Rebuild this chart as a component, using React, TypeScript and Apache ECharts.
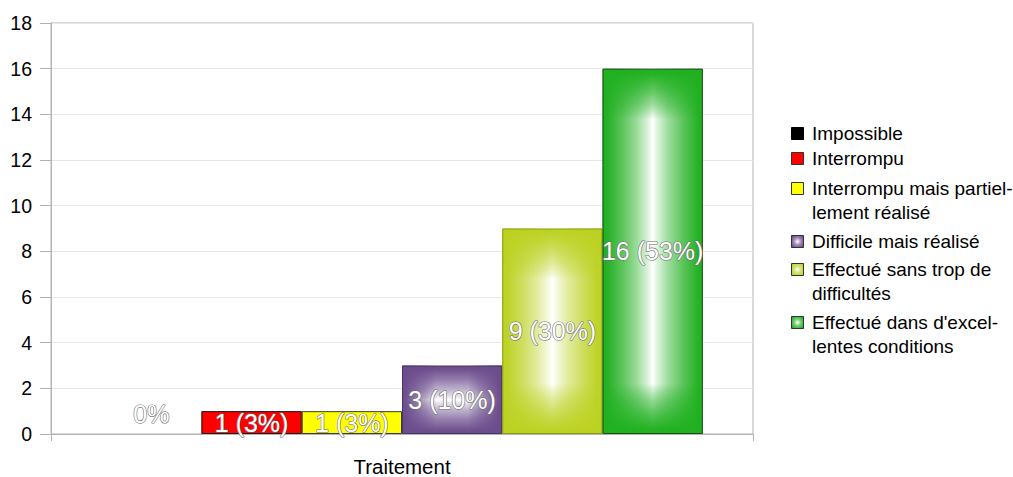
import React, { useEffect, useRef } from "react";
import * as echarts from "echarts";

// ---- data ----
const categories = ["Traitement"];
const seriesNames = [
  "Impossible",
  "Interrompu",
  "Interrompu mais partiellement réalisé",
  "Difficile mais réalisé",
  "Effectué sans trop de difficultés",
  "Effectué dans d'excellentes conditions",
];
const legendLines = [
  ["Impossible"],
  ["Interrompu"],
  ["Interrompu mais partiel-", "lement réalisé"],
  ["Difficile mais réalisé"],
  ["Effectué sans trop de", "difficultés"],
  ["Effectué dans d'excel-", "lentes conditions"],
];
const values = [0, 1, 1, 3, 9, 16];
const yMin = 0;
const yMax = 18;
const yInterval = 2;

// ---- styles ----
const edgeColors = ["#000000", "#ff0000", "#ffff00", "#6b4c8c", "#bcd222", "#20b020"];
const borderColors = ["#000000", "#1a1a1a", "#3c3c3c", "#4a3366", "#8c9c14", "#1e4e1e"];
const pillow = [false, false, false, true, true, true];
const FONT = "'Liberation Sans', Arial, sans-serif";

const total = values.reduce((a, b) => a + b, 0);

function hexToRgb(h: string) {
  const n = parseInt(h.slice(1), 16);
  return [(n >> 16) & 255, (n >> 8) & 255, n & 255];
}
function mix(h: string, t: number, alpha = 1) {
  const [r, g, b] = hexToRgb(h);
  const m = (c: number) => Math.round(c + (255 - c) * t);
  return `rgba(${m(r)},${m(g)},${m(b)},${alpha})`;
}
function rgba(h: string, a: number) {
  const [r, g, b] = hexToRgb(h);
  return `rgba(${r},${g},${b},${a})`;
}
// profile: position along band (0..1) -> whiteness
const prof: [number, number][] = [
  [0, 0],
  [0.1, 0.03],
  [0.4, 0.27],
  [0.7, 0.57],
  [0.9, 0.84],
  [1, 1],
];

function hGrad(edge: string, b: number) {
  const stops: any[] = [];
  prof.forEach(([t, s]) => stops.push({ offset: t * b, color: mix(edge, s) }));
  for (let k = prof.length - 1; k >= 0; k--) {
    const [t, s] = prof[k];
    stops.push({ offset: 1 - t * b, color: mix(edge, s) });
  }
  return { type: "linear", x: 0, y: 0, x2: 1, y2: 0, colorStops: stops };
}
function vGrad(edge: string, b: number) {
  const stops: any[] = [];
  prof.forEach(([t, s]) => stops.push({ offset: t * b, color: rgba(edge, 1 - s) }));
  for (let k = prof.length - 1; k >= 0; k--) {
    const [t, s] = prof[k];
    stops.push({ offset: 1 - t * b, color: rgba(edge, 1 - s) });
  }
  return { type: "linear", x: 0, y: 0, x2: 0, y2: 1, colorStops: stops };
}

function labelText(v: number) {
  if (v === 0) return "0%";
  return `${v} (${Math.round((v / total) * 100)}%)`;
}

export default function App() {
  const ref = useRef<HTMLDivElement>(null);
  useEffect(() => {
    if (!ref.current) return;
    const chart = echarts.init(ref.current, undefined, { renderer: "svg" });

    const legendTops = [133, 158, 188, 241, 269, 322];
    const lineH = 24.5;
    const graphic: any[] = [];
    legendLines.forEach((lines, i) => {
      const y0 = legendTops[i];
      graphic.push({
        type: "rect",
        left: 791,
        top: y0 - 6,
        shape: { x: 0, y: 0, width: 12, height: 12 },
        style: {
          fill: pillow[i]
            ? {
                type: "radial",
                x: 0.5,
                y: 0.5,
                r: 0.6,
                colorStops: [
                  { offset: 0, color: "#ffffff" },
                  { offset: 0.5, color: mix(edgeColors[i], 0.35) },
                  { offset: 1, color: edgeColors[i] },
                ],
              }
            : edgeColors[i],
          stroke: i === 0 ? "#000" : "#333",
          lineWidth: 1,
        },
      });
      lines.forEach((ln, k) => {
        graphic.push({
          type: "text",
          x: 812,
          y: y0 + k * lineH,
          style: {
            text: ln,
            fill: "#000",
            font: `19px ${FONT}`,
            verticalAlign: "middle",
            align: "left",
          },
        });
      });
    });

    const baseSeries = seriesNames.map((name, i) => ({
      name,
      type: "bar",
      xAxisIndex: 0,
      barGap: 0,
      barCategoryGap: "14.3%",
      silent: true,
      data: [values[i]],
      itemStyle: { color: edgeColors[i], borderWidth: 0 },
      label: { show: false },
    }));
    const overlaySeries = seriesNames.map((name, i) => ({
      name: name + " ",
      type: "bar",
      xAxisIndex: 1,
      barGap: 0,
      barCategoryGap: "14.3%",
      silent: true,
      data: [values[i]],
      itemStyle: {
        color: "rgba(0,0,0,0)",
        borderColor: borderColors[i],
        borderWidth: values[i] === 0 ? 0 : 1,
      },
      label: {
        show: true,
        position: values[i] === 0 ? "top" : "inside",
        distance: 8,
        formatter: (p: any) => labelText(p.value),
        color: "#ffffff",
        fontFamily: FONT,
        fontSize: 25,
        textBorderColor: "#6e6e6e",
        textBorderWidth: 1.2,
      },
    }));

    const axisGrey = "#b3b3b3";
    chart.setOption({
      animation: false,
      textStyle: { fontFamily: FONT },
      grid: {
        left: 51,
        right: 260,
        top: 23,
        bottom: 43,
        show: true,
        borderColor: axisGrey,
        borderWidth: 1,
        backgroundColor: "transparent",
      },
      xAxis: [
        {
          type: "category",
          data: categories,
          position: "bottom",
          axisLine: { lineStyle: { color: axisGrey } },
          axisTick: { show: true, length: 7, alignWithLabel: false, lineStyle: { color: axisGrey } },
          axisLabel: { color: "#000", fontSize: 20.5, margin: 22, fontFamily: FONT },
        },
        { type: "category", data: categories, show: false },
      ],
      yAxis: {
        type: "value",
        min: yMin,
        max: yMax,
        interval: yInterval,
        axisLine: { show: true, lineStyle: { color: axisGrey } },
        axisTick: { show: true, length: 11, lineStyle: { color: axisGrey } },
        splitLine: { lineStyle: { color: "#e6e6e6" } },
        axisLabel: { color: "#000", fontSize: 19.5, margin: 19, fontFamily: FONT },
      },
      graphic,
      series: [...baseSeries, ...overlaySeries],
    });

    // apply pillow gradients sized from the actual bar layout
    try {
      const model = (chart as any).getModel();
      const lays = seriesNames.map((_, i) => model.getSeriesByIndex(i).getData().getItemLayout(0));
      const updates = seriesNames.map((_, i) => {
        if (!pillow[i]) return {};
        const w = Math.abs(lays[i].width);
        const h = Math.abs(lays[i].height);
        const band = Math.min(w, h) / 2;
        return { itemStyle: { color: hGrad(edgeColors[i], band / w) } };
      });
      const updates2 = seriesNames.map((_, i) => {
        if (!pillow[i]) return {};
        const w = Math.abs(lays[i].width);
        const h = Math.abs(lays[i].height);
        const band = Math.min(w, h) / 2;
        return { itemStyle: { color: vGrad(edgeColors[i], band / h) } };
      });
      chart.setOption({ series: [...updates, ...updates2] });
    } catch (e) {
      // keep flat colors
    }

    return () => chart.dispose();
  }, []);
  return (
    <div
      ref={ref}
      style={{ position: "fixed", left: 0, top: 0, width: 1013, height: 477, background: "#fff" }}
    />
  );
}
